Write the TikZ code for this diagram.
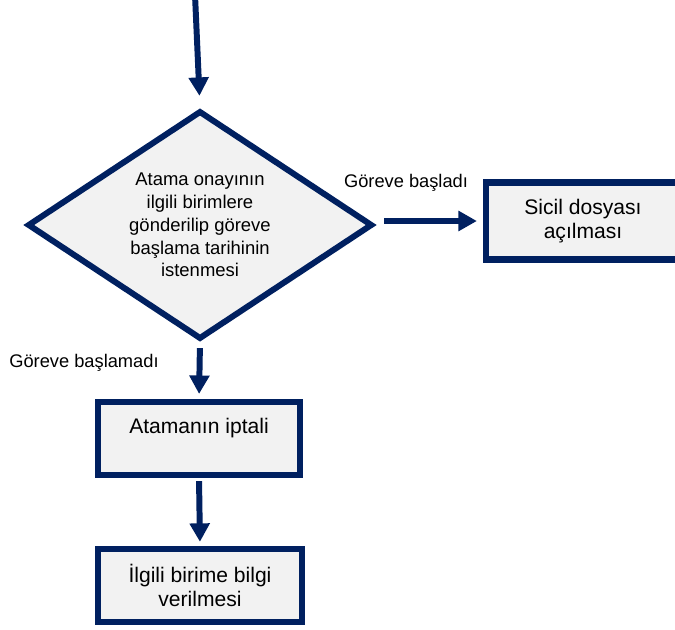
\documentclass[tikz,border=0pt]{standalone}
\usepackage{fontspec}
\setmainfont{Liberation Sans}
\usetikzlibrary{positioning,shapes.geometric,arrows.meta}
\definecolor{navy}{HTML}{002060}
\definecolor{boxfill}{HTML}{F2F2F2}

\begin{document}
\begin{tikzpicture}[x=0.02cm,y=-0.02cm,
    decision/.style={diamond,aspect=1.5,draw=navy,fill=boxfill,line width=3.4pt,
        minimum width=6.9cm,minimum height=4.57cm,inner sep=0pt,
        align=center,font=\fontsize{10.5}{13}\selectfont},
    process/.style={rectangle,draw=navy,fill=boxfill,line width=3.6pt,
        align=center,font=\fontsize{12}{14}\selectfont},
    flow/.style={-{Triangle[width=11pt,length=10.5pt]},draw=navy,line width=3.4pt},
    note/.style={font=\fontsize{10.4}{12}\selectfont}]
        \useasboundingbox (0,0) rectangle (675,629);
        % Decision
        \node[decision] (dia) at (200,225) {Atama onayının\\ilgili birimlere\\gönderilip göreve\\başlama tarihinin\\istenmesi};
        % Boxes
        \node[process,minimum width=3.88cm,minimum height=1.54cm] (sicil) at (583,221) {Sicil dosyası\\açılması};
        \node[process,minimum width=4.04cm,minimum height=1.46cm] (iptal) at (199,438.5) {Atamanın iptali\\\mbox{}};
        \node[process,minimum width=4.08cm,minimum height=1.46cm] (ilgili) at (200,585.5) {İlgili birime bilgi\\verilmesi};
        % Arrows
        \coordinate (start) at (195,-5);
        \draw[flow,shorten >=6.8pt] (start) -- (dia.north);
        \draw[flow,shorten <=5pt,shorten >=3.4pt] (dia.east |- sicil.west) -- (sicil.west);
        \draw[flow,shorten <=3.4pt,shorten >=2.8pt] (dia.south) -- (iptal.north);
        \draw[flow,shorten <=1.7pt,shorten >=2.3pt] (iptal.south) -- (ilgili.north);
        % Labels
        \node[note] (yes) at (406,183) {Göreve başladı};
        \node[note] (no) at (84,363) {Göreve başlamadı};
\end{tikzpicture}
\end{document}
